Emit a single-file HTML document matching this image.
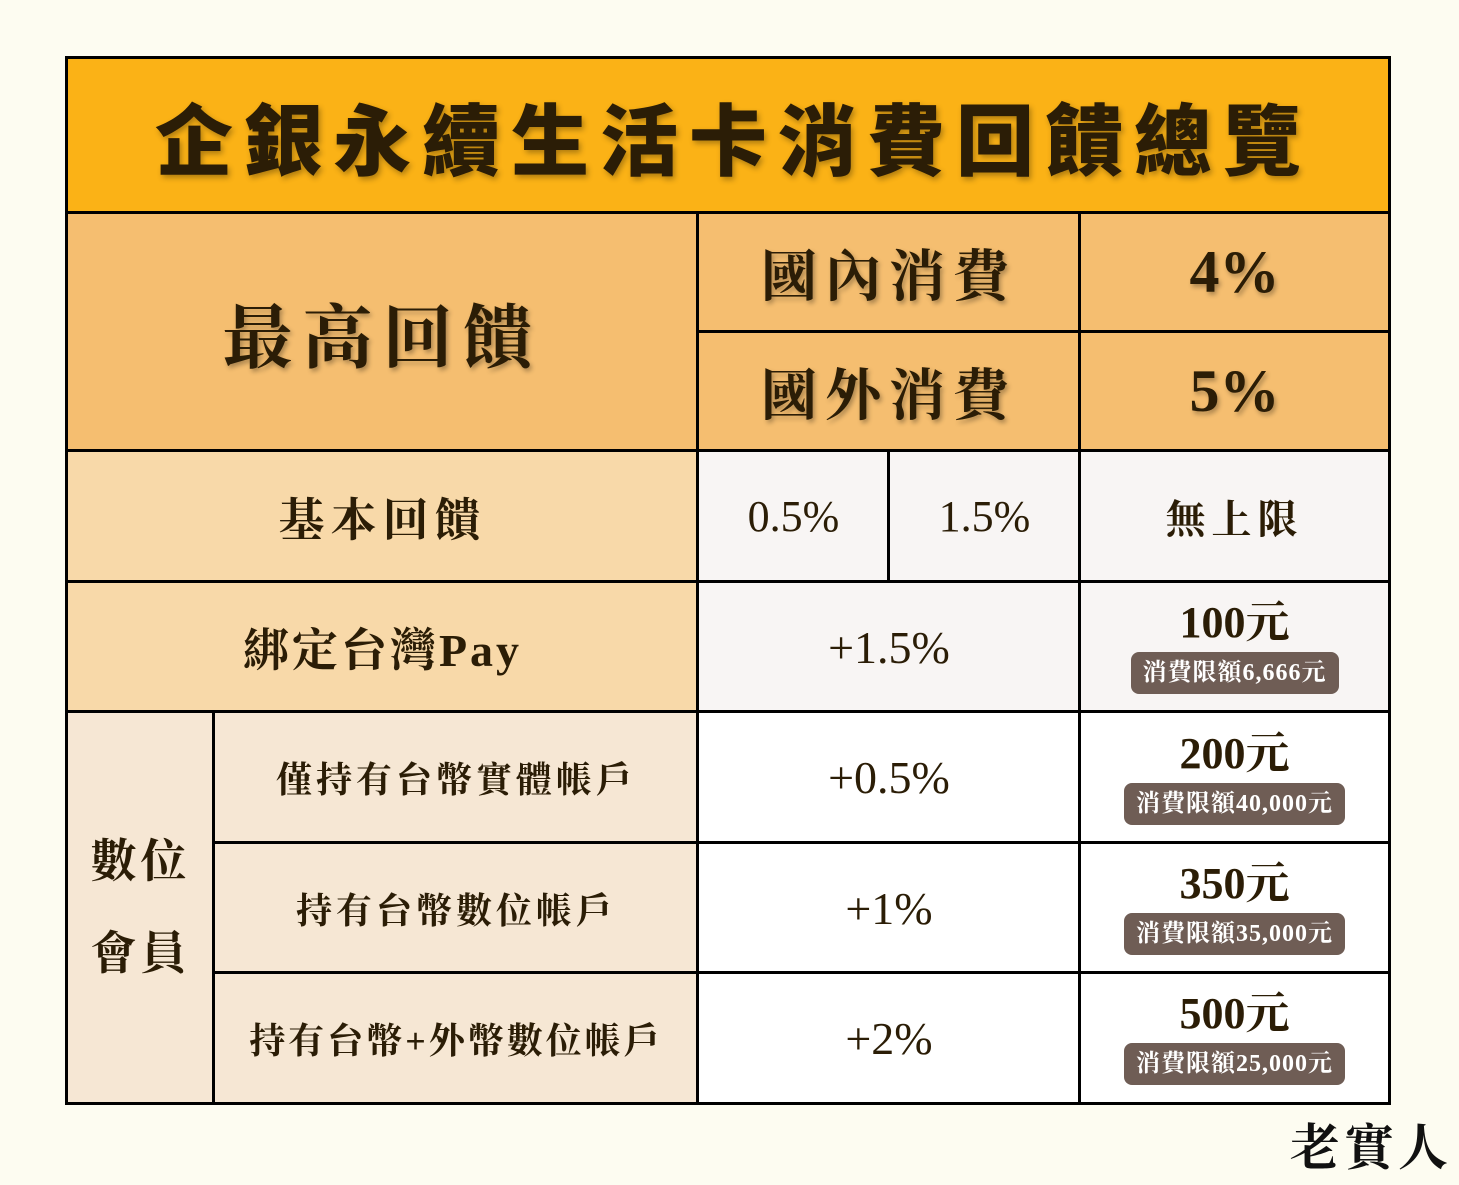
<!DOCTYPE html><html><head><meta charset="utf-8"><style>
body{margin:0;width:1459px;height:1185px;background:#fdfcf1;position:relative;overflow:hidden;font-family:"Liberation Serif","Noto Serif CJK SC","Noto Sans CJK TC",serif;color:#2b1d06}
.c{position:absolute;box-sizing:border-box;border:3px solid #000;display:flex;flex-direction:column;align-items:center;justify-content:center;font-weight:bold;text-align:center}
.b{background:#6f5d55;color:#fff;border-radius:8px;font-size:24px;padding:5px 12px;margin-top:6px;font-weight:bold;letter-spacing:1px;line-height:32px}
</style></head><body>
<div class="c" style="left:65px;top:56px;width:1326px;height:159px;background:#fbb216;font-size:78px;letter-spacing:11px;padding-left:11px;font-family:'Noto Sans CJK TC',sans-serif;font-weight:900;text-shadow:2px 3px 6px rgba(0,0,0,.3)">企銀永續生活卡消費回饋總覽</div>
<div class="c" style="left:65px;top:211px;width:635px;height:242px;background:#f5be70;font-size:70px;letter-spacing:10px;text-shadow:2px 3px 5px rgba(0,0,0,.3)">最高回饋</div>
<div class="c" style="left:696px;top:211px;width:386px;height:123px;background:#f5be70;font-size:56px;letter-spacing:8px;text-shadow:2px 3px 5px rgba(0,0,0,.3)">國內消費</div>
<div class="c" style="left:696px;top:330px;width:386px;height:123px;background:#f5be70;font-size:56px;letter-spacing:8px;text-shadow:2px 3px 5px rgba(0,0,0,.3)">國外消費</div>
<div class="c" style="left:1078px;top:211px;width:313px;height:123px;background:#f5be70;font-size:60px;text-shadow:2px 3px 5px rgba(0,0,0,.3)">4%</div>
<div class="c" style="left:1078px;top:330px;width:313px;height:123px;background:#f5be70;font-size:60px;text-shadow:2px 3px 5px rgba(0,0,0,.3)">5%</div>
<div class="c" style="left:65px;top:449px;width:635px;height:135px;background:#f8d9a9;font-size:46px;letter-spacing:6px">基本回饋</div>
<div class="c" style="left:696px;top:449px;width:195px;height:135px;background:#f8f5f4;font-size:44px;font-weight:normal">0.5%</div>
<div class="c" style="left:887px;top:449px;width:195px;height:135px;background:#f8f5f4;font-size:44px;font-weight:normal">1.5%</div>
<div class="c" style="left:1078px;top:449px;width:313px;height:135px;background:#f8f5f4;font-size:40px;letter-spacing:6px">無上限</div>
<div class="c" style="left:65px;top:580px;width:635px;height:134px;background:#f8d9a9;font-size:46px;letter-spacing:3px">綁定台灣Pay</div>
<div class="c" style="left:696px;top:580px;width:386px;height:134px;background:#f8f5f4;font-size:46px;font-weight:normal">+1.5%</div>
<div class="c" style="left:1078px;top:580px;width:313px;height:134px;background:#f8f5f4;font-size:44px;line-height:46px">100元<span class="b">消費限額6,666元</span></div>
<div class="c" style="left:65px;top:710px;width:151px;height:395px;background:#f6e7d4;font-size:46px;line-height:92px;letter-spacing:4px">數位<br>會員</div>
<div class="c" style="left:212px;top:710px;width:488px;height:135px;background:#f6e7d4;font-size:36px;letter-spacing:4px">僅持有台幣實體帳戶</div>
<div class="c" style="left:212px;top:841px;width:488px;height:134px;background:#f6e7d4;font-size:36px;letter-spacing:4px">持有台幣數位帳戶</div>
<div class="c" style="left:212px;top:971px;width:488px;height:134px;background:#f6e7d4;font-size:36px;letter-spacing:3px">持有台幣+外幣數位帳戶</div>
<div class="c" style="left:696px;top:710px;width:386px;height:135px;background:#fff;font-size:46px;font-weight:normal">+0.5%</div>
<div class="c" style="left:696px;top:841px;width:386px;height:134px;background:#fff;font-size:46px;font-weight:normal">+1%</div>
<div class="c" style="left:696px;top:971px;width:386px;height:134px;background:#fff;font-size:46px;font-weight:normal">+2%</div>
<div class="c" style="left:1078px;top:710px;width:313px;height:135px;background:#fff;font-size:44px;line-height:46px">200元<span class="b">消費限額40,000元</span></div>
<div class="c" style="left:1078px;top:841px;width:313px;height:134px;background:#fff;font-size:44px;line-height:46px">350元<span class="b">消費限額35,000元</span></div>
<div class="c" style="left:1078px;top:971px;width:313px;height:134px;background:#fff;font-size:44px;line-height:46px">500元<span class="b">消費限額25,000元</span></div>
<div style="position:absolute;left:1290px;top:1118px;font-size:50px;line-height:60px;font-weight:bold;color:#111;letter-spacing:4px">老實人</div>
</body></html>
